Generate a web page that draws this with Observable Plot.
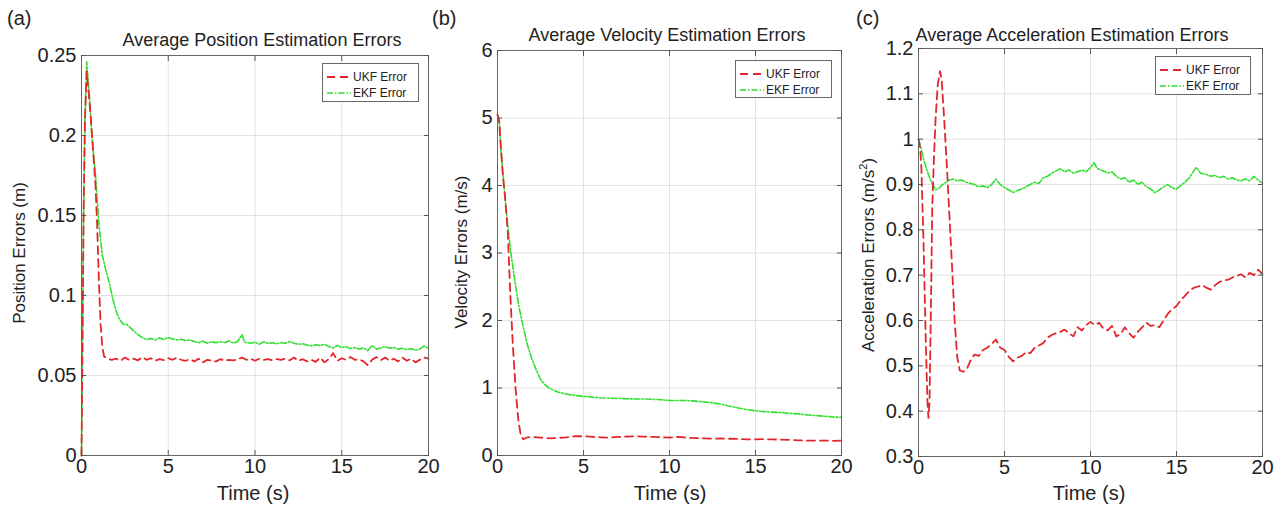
<!DOCTYPE html>
<html>
<head>
<meta charset="utf-8">
<script src="https://cdn.jsdelivr.net/npm/d3@7"></script>
<script src="https://cdn.jsdelivr.net/npm/@observablehq/plot@0.6"></script>
<style>
  html, body { margin: 0; padding: 0; background: #fff; }
  #fig { position: relative; width: 1288px; height: 506px; overflow: hidden; font-family: "Liberation Sans", "DejaVu Sans", sans-serif; color: #222; }
  .panel { position: absolute; top: 0; }
  .lbl { position: absolute; white-space: nowrap; transform: translate(-50%, -50%); }
  .ylbl { position: absolute; white-space: nowrap; transform: translate(-50%, -50%) rotate(-90deg); font-size: 17px; }
  .title { font-size: 18px; }
  .xl { font-size: 20px; }
  .tag { position: absolute; font-size: 20px; }
  .legend { position: absolute; background: #fff; border: 1px solid #666; font-size: 12px; box-sizing: border-box; }
  .legend .row { position: absolute; left: 0; height: 14px; display: flex; align-items: center; }
  .legend svg { display: block; }
  sup { font-size: 11px; }
</style>
</head>
<body>
<div id="fig"></div>
<script>
// ---------- data ----------
const xTicks = [0, 5, 10, 15, 20];
const posTicks = [0, 0.05, 0.1, 0.15, 0.2, 0.25];
const velTicks = [0, 1, 2, 3, 4, 5, 6];
const accTicks = [0.3, 0.4, 0.5, 0.6, 0.7, 0.8, 0.9, 1.0, 1.1, 1.2];
const seriesNames = ["UKF Error", "EKF Error"];

const posEkf = [[0,0],[0.05,0.06],[0.12,0.15],[0.2,0.21],[0.3,0.246],[0.45,0.225],[0.6,0.2],[0.8,0.176],[1.0,0.145],[1.2,0.125],[1.4,0.116],[1.6,0.108],[1.8,0.098],[2.0,0.09],[2.2,0.085],[2.4,0.082],[2.6,0.082],[2.8,0.080],[3.0,0.078],[3.2,0.076],[3.4,0.0745],[3.6,0.073],[3.8,0.0725],[4.0,0.0732],[4.25,0.0722],[4.5,0.0735],[4.75,0.0725],[5.0,0.0738],[5.25,0.0728],[5.5,0.0722],[5.75,0.0726],[6.0,0.0718],[6.25,0.0722],[6.5,0.0712],[6.75,0.0705],[7.0,0.0715],[7.25,0.0702],[7.5,0.0712],[7.75,0.0705],[8.0,0.0712],[8.25,0.0706],[8.5,0.0715],[8.75,0.0703],[9.0,0.0712],[9.25,0.0755],[9.4,0.0708],[9.75,0.0702],[10.0,0.0708],[10.25,0.0695],[10.5,0.0712],[10.75,0.070],[11.0,0.0705],[11.25,0.0698],[11.5,0.0705],[11.75,0.0702],[12.0,0.0712],[12.25,0.0702],[12.5,0.0695],[12.75,0.0698],[13.0,0.069],[13.25,0.0685],[13.5,0.0692],[13.75,0.0688],[14.0,0.0695],[14.25,0.0682],[14.5,0.0672],[14.75,0.0688],[15.0,0.0675],[15.25,0.068],[15.5,0.0668],[15.75,0.0675],[16.0,0.0665],[16.25,0.0672],[16.5,0.0655],[16.75,0.0688],[17.0,0.0665],[17.25,0.0672],[17.5,0.068],[17.75,0.067],[18.0,0.0675],[18.25,0.0665],[18.5,0.067],[18.75,0.0662],[19.0,0.0668],[19.25,0.0658],[19.5,0.0665],[19.75,0.0685],[20.0,0.0668]];

const posUkf = [[0,0],[0.05,0.06],[0.12,0.15],[0.2,0.21],[0.3,0.24],[0.5,0.216],[0.7,0.186],[0.8,0.17],[0.9,0.145],[1.0,0.11],[1.1,0.082],[1.2,0.068],[1.3,0.062],[1.5,0.0605],[1.75,0.0598],[2.0,0.0605],[2.25,0.0592],[2.5,0.0612],[2.75,0.0598],[3.0,0.0605],[3.25,0.0595],[3.5,0.0615],[3.75,0.0598],[4.0,0.0608],[4.25,0.0592],[4.5,0.0602],[4.75,0.0596],[5.0,0.0608],[5.25,0.0598],[5.5,0.0612],[5.75,0.0598],[6.0,0.0592],[6.25,0.0602],[6.5,0.0588],[6.75,0.0605],[7.0,0.0582],[7.25,0.0598],[7.5,0.0592],[7.75,0.0588],[8.0,0.0602],[8.25,0.0592],[8.5,0.0598],[8.75,0.0595],[9.0,0.0602],[9.25,0.0612],[9.5,0.0598],[9.75,0.0605],[10.0,0.0592],[10.25,0.0605],[10.5,0.0598],[10.75,0.0602],[11.0,0.0595],[11.25,0.0602],[11.5,0.0598],[11.75,0.0605],[12.0,0.0595],[12.25,0.0612],[12.5,0.0592],[12.75,0.0602],[13.0,0.0588],[13.25,0.0598],[13.5,0.0585],[13.75,0.0612],[14.0,0.0582],[14.25,0.0602],[14.5,0.064],[14.75,0.0592],[15.0,0.0608],[15.25,0.0598],[15.5,0.0615],[15.75,0.0598],[16.0,0.0602],[16.25,0.0588],[16.5,0.0565],[16.75,0.0598],[17.0,0.0615],[17.25,0.0595],[17.5,0.0612],[17.75,0.0592],[18.0,0.0605],[18.25,0.0588],[18.5,0.0612],[18.75,0.0592],[19.0,0.0605],[19.25,0.0582],[19.5,0.0598],[19.75,0.0612],[20.0,0.0605]];

const velEkf = [[0,5.05],[0.1,4.95],[0.2,4.55],[0.3,4.2],[0.5,3.65],[0.75,3.05],[1.0,2.6],[1.25,2.2],[1.5,1.9],[1.75,1.63],[2.0,1.43],[2.25,1.27],[2.5,1.13],[2.75,1.05],[3.0,1.0],[3.5,0.94],[4.0,0.91],[4.5,0.89],[5.0,0.875],[5.5,0.865],[6.0,0.855],[6.5,0.85],[7.0,0.845],[7.5,0.84],[8.0,0.838],[8.5,0.837],[9.0,0.833],[9.5,0.825],[10.0,0.815],[10.5,0.815],[11.0,0.815],[11.5,0.805],[12.0,0.795],[12.5,0.78],[13.0,0.76],[13.5,0.73],[14.0,0.705],[14.5,0.68],[15.0,0.662],[15.5,0.65],[16.0,0.642],[16.5,0.635],[17.0,0.625],[17.5,0.615],[18.0,0.602],[18.5,0.592],[19.0,0.582],[19.5,0.572],[20.0,0.565]];

const velUkf = [[0,5.05],[0.1,4.95],[0.2,4.55],[0.3,4.2],[0.45,3.8],[0.6,3.3],[0.75,2.35],[0.9,1.6],[1.05,1.0],[1.2,0.55],[1.35,0.3],[1.5,0.24],[1.75,0.27],[2.0,0.275],[2.5,0.265],[3.0,0.255],[3.5,0.26],[4.0,0.27],[4.5,0.285],[5.0,0.285],[5.5,0.275],[6.0,0.27],[6.5,0.265],[7.0,0.275],[7.5,0.28],[8.0,0.285],[8.5,0.28],[9.0,0.275],[9.5,0.27],[10.0,0.265],[10.5,0.275],[11.0,0.265],[11.5,0.258],[12.0,0.255],[12.5,0.25],[13.0,0.252],[13.5,0.248],[14.0,0.245],[14.5,0.24],[15.0,0.238],[15.5,0.242],[16.0,0.238],[16.5,0.235],[17.0,0.232],[17.5,0.225],[18.0,0.22],[18.5,0.222],[19.0,0.22],[19.5,0.218],[20.0,0.22]];

const accEkf = [[0,1.0],[0.15,0.98],[0.3,0.955],[0.5,0.93],[0.75,0.905],[1.0,0.888],[1.2,0.892],[1.4,0.9],[1.6,0.905],[1.8,0.91],[2.0,0.912],[2.25,0.908],[2.5,0.91],[2.75,0.905],[3.0,0.903],[3.25,0.9],[3.5,0.895],[3.75,0.897],[4.0,0.893],[4.25,0.9],[4.5,0.912],[4.75,0.9],[5.0,0.893],[5.25,0.888],[5.5,0.882],[5.75,0.887],[6.0,0.89],[6.25,0.895],[6.5,0.9],[6.75,0.905],[7.0,0.902],[7.25,0.915],[7.5,0.918],[7.75,0.925],[8.0,0.93],[8.25,0.935],[8.5,0.928],[8.75,0.932],[9.0,0.925],[9.25,0.928],[9.5,0.932],[9.75,0.928],[10.0,0.938],[10.2,0.948],[10.4,0.935],[10.75,0.93],[11.0,0.925],[11.25,0.928],[11.5,0.918],[11.75,0.912],[12.0,0.915],[12.25,0.905],[12.5,0.91],[12.75,0.9],[13.0,0.905],[13.25,0.895],[13.5,0.89],[13.75,0.882],[14.0,0.888],[14.25,0.895],[14.5,0.9],[14.75,0.892],[15.0,0.89],[15.25,0.898],[15.5,0.905],[15.75,0.915],[16.0,0.93],[16.15,0.938],[16.4,0.925],[16.75,0.922],[17.0,0.918],[17.25,0.92],[17.5,0.915],[17.75,0.918],[18.0,0.912],[18.25,0.915],[18.5,0.91],[18.75,0.908],[19.0,0.912],[19.25,0.908],[19.5,0.918],[19.75,0.91],[20.0,0.903]];

const accUkf = [[0,1.0],[0.1,0.98],[0.17,0.935],[0.3,0.76],[0.42,0.56],[0.52,0.42],[0.58,0.385],[0.64,0.42],[0.72,0.62],[0.8,0.85],[0.9,0.96],[1.0,1.05],[1.12,1.12],[1.25,1.15],[1.35,1.13],[1.5,1.04],[1.65,0.94],[1.8,0.83],[1.95,0.72],[2.1,0.6],[2.25,0.52],[2.4,0.49],[2.6,0.487],[2.8,0.492],[3.0,0.51],[3.25,0.525],[3.5,0.522],[3.75,0.535],[4.0,0.54],[4.25,0.548],[4.5,0.558],[4.75,0.54],[5.0,0.535],[5.25,0.52],[5.5,0.51],[5.75,0.518],[6.0,0.522],[6.25,0.53],[6.5,0.528],[6.75,0.54],[7.0,0.545],[7.25,0.55],[7.5,0.562],[7.75,0.568],[8.0,0.572],[8.25,0.575],[8.5,0.58],[8.75,0.572],[9.0,0.565],[9.25,0.585],[9.5,0.578],[9.75,0.59],[10.0,0.597],[10.25,0.59],[10.5,0.595],[10.75,0.582],[11.0,0.578],[11.25,0.588],[11.5,0.565],[11.75,0.57],[12.0,0.585],[12.25,0.572],[12.5,0.562],[12.75,0.575],[13.0,0.585],[13.25,0.595],[13.5,0.588],[13.75,0.59],[14.0,0.585],[14.25,0.6],[14.5,0.615],[14.75,0.625],[15.0,0.632],[15.25,0.645],[15.5,0.655],[15.75,0.665],[16.0,0.672],[16.25,0.675],[16.5,0.678],[16.75,0.672],[17.0,0.668],[17.25,0.678],[17.5,0.685],[17.75,0.688],[18.0,0.69],[18.25,0.695],[18.5,0.698],[18.75,0.702],[19.0,0.695],[19.25,0.705],[19.5,0.7],[19.75,0.712],[20.0,0.702]];

// ---------- styling ----------
const RED = "#e3262b", GREEN = "#2fe02f";
const UKF_DASH = "8,5", EKF_DASH = "6,2,1.5,2";
const fig = document.getElementById("fig");

function fmt(v) { return String(v); }

function panel(cfg) {
  const chart = Plot.plot({
    width: cfg.width, height: 506,
    marginLeft: cfg.ml, marginRight: cfg.mr, marginTop: cfg.mt, marginBottom: cfg.mb,
    style: { fontFamily: '"Liberation Sans", sans-serif', fontSize: "20px", color: "#222", background: "transparent", overflow: "visible" },
    x: { domain: [0, 20], label: null },
    y: { domain: cfg.ydomain, label: null },
    marks: [
      Plot.gridX(xTicks, { stroke: "#e2e2e2", strokeOpacity: 1 }),
      Plot.gridY(cfg.yticks, { stroke: "#e2e2e2", strokeOpacity: 1 }),
      Plot.line(cfg.ekf, { x: d => d[0], y: d => d[1], stroke: GREEN, strokeWidth: 1.6, strokeDasharray: EKF_DASH }),
      Plot.line(cfg.ukf, { x: d => d[0], y: d => d[1], stroke: RED, strokeWidth: 1.8, strokeDasharray: UKF_DASH }),
      Plot.frame({ stroke: "#666" }),
      Plot.axisX(xTicks, { anchor: "bottom", tickSize: 0, tickPadding: 3, tickFormat: fmt, fill: "#222" }),
      Plot.axisY(cfg.yticks, { anchor: "left", tickSize: 0, tickPadding: 5, tickFormat: cfg.yfmt, fill: "#222" }),
      Plot.axisX(xTicks, { anchor: "bottom", tickSize: -5, tickFormat: () => "", stroke: "#555" }),
      Plot.axisX(xTicks, { anchor: "top", tickSize: -5, tickFormat: () => "", stroke: "#555" }),
      Plot.axisY(cfg.yticks, { anchor: "left", tickSize: -5, tickFormat: () => "", stroke: "#555" }),
      Plot.axisY(cfg.yticks, { anchor: "right", tickSize: -5, tickFormat: () => "", stroke: "#555" })
    ]
  });
  const wrap = document.createElement("div");
  wrap.className = "panel";
  wrap.style.left = cfg.left + "px";
  wrap.appendChild(chart);
  fig.appendChild(wrap);

  const add = (cls, html, x, y) => {
    const d = document.createElement("div");
    d.className = cls; d.innerHTML = html;
    d.style.left = x + "px"; d.style.top = y + "px";
    fig.appendChild(d);
    return d;
  };
  add("tag", cfg.tag, cfg.tagX, 7);
  add("lbl title", cfg.title, cfg.titleX, cfg.titleY);
  add("lbl xl", "Time (s)", cfg.xlX, 493);
  add("ylbl", cfg.ylabel, cfg.ylX, cfg.ylY);

  // legend
  const lg = document.createElement("div");
  lg.className = "legend";
  lg.style.left = cfg.lgX + "px"; lg.style.top = cfg.lgY + "px";
  lg.style.width = cfg.lgW + "px"; lg.style.height = cfg.lgH + "px";
  const rows = [[seriesNames[0], RED, UKF_DASH, 1.8, 6], [seriesNames[1], GREEN, EKF_DASH, 1.6, 22]];
  rows.forEach(([name, col, dash, sw, top]) => {
    const r = document.createElement("div");
    r.className = "row"; r.style.top = top + "px";
    r.innerHTML = `<svg width="30" height="14"><line x1="4" x2="28" y1="7" y2="7" stroke="${col}" stroke-width="${sw}" stroke-dasharray="${dash}"/></svg><span>${name}</span>`;
    lg.appendChild(r);
  });
  fig.appendChild(lg);
}

panel({
  left: 0, width: 440, ml: 81, mr: 12, mt: 55, mb: 51,
  ydomain: [0, 0.25], yticks: posTicks, yfmt: d => d === 0 ? "0" : String(d),
  ekf: posEkf, ukf: posUkf,
  tag: "(a)", tagX: 7, title: "Average Position Estimation Errors", titleX: 262, titleY: 40,
  xlX: 253, ylabel: "Position Errors (m)", ylX: 20, ylY: 253,
  lgX: 322, lgY: 63, lgW: 97, lgH: 39
});
panel({
  left: 440, width: 410, ml: 57, mr: 9, mt: 50, mb: 51,
  ydomain: [0, 6], yticks: velTicks, yfmt: fmt,
  ekf: velEkf, ukf: velUkf,
  tag: "(b)", tagX: 432, title: "Average Velocity Estimation Errors", titleX: 667, titleY: 35,
  xlX: 670, ylabel: "Velocity Errors (m/s)", ylX: 462, ylY: 252,
  lgX: 735, lgY: 60, lgW: 97, lgH: 38
});
panel({
  left: 850, width: 438, ml: 68, mr: 26, mt: 48, mb: 50,
  ydomain: [0.3, 1.2], yticks: accTicks, yfmt: d => d === 1 ? "1" : String(d),
  ekf: accEkf, ukf: accUkf,
  tag: "(c)", tagX: 856, title: "Average Acceleration Estimation Errors", titleX: 1072, titleY: 35,
  xlX: 1089, ylabel: "Acceleration Errors (m/s<sup>2</sup>)", ylX: 868, ylY: 255,
  lgX: 1155, lgY: 56, lgW: 96, lgH: 39
});
</script>
</body>
</html>
